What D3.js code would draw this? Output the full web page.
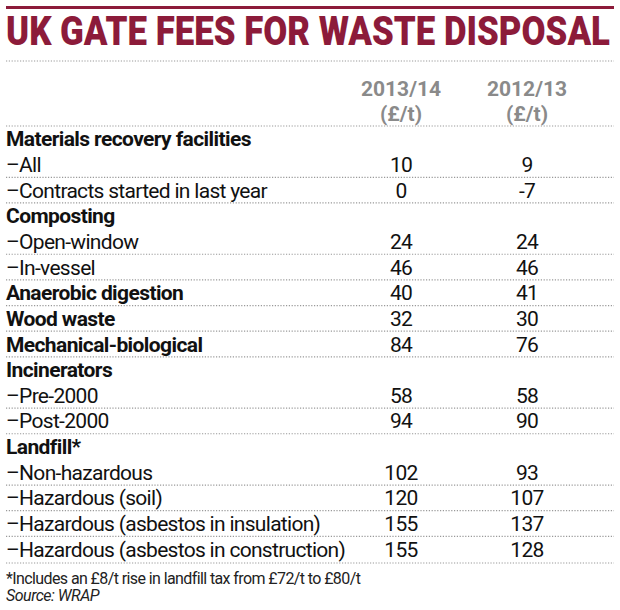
<!DOCTYPE html>
<html><head><meta charset="utf-8">
<script src="https://cdn.jsdelivr.net/npm/d3@7"></script>
<style>body{margin:0;background:#fff}</style></head>
<body><svg id="c" width="620" height="610"></svg>
<script>
const labels = ["Materials recovery facilities","\u2013All","\u2013Contracts started in last year","Composting","\u2013Open-window","\u2013In-vessel","Anaerobic digestion","Wood waste","Mechanical-biological","Incinerators","\u2013Pre-2000","\u2013Post-2000","Landfill*","\u2013Non-hazardous","\u2013Hazardous (soil)","\u2013Hazardous (asbestos in insulation)","\u2013Hazardous (asbestos in construction)"];
const bold = [1,0,0,1,0,0,1,1,1,1,0,0,1,0,0,0,0];
const v2013 = [null,10,0,null,24,46,40,32,84,null,58,94,null,102,120,155,155];
const v2012 = [null,9,-7,null,24,46,41,30,76,null,58,90,null,93,107,137,128];
const columns = ["2013/14","2012/13"];
const units = ["(\u00a3/t)","(\u00a3/t)"];

const svg = d3.select("#c");
const font = "Roboto, 'Liberation Sans', sans-serif";
const red = "#8c1b3a";
const y = d3.scaleBand().domain(d3.range(labels.length)).range([126, 562]);
const x = d3.scalePoint().domain(columns).range([401, 527]);

svg.append("rect").attr("x",6).attr("y",6).attr("width",608).attr("height",3).attr("fill",red);
svg.append("text").attr("x",6).attr("y",45).attr("font-family",font).attr("font-weight",900)
  .attr("font-size",40).attr("fill",red).attr("textLength",604).attr("lengthAdjust","spacingAndGlyphs")
  .text("UK GATE FEES FOR WASTE DISPOSAL");
function dotted(yy){svg.append("line").attr("x1",6).attr("x2",614).attr("y1",yy).attr("y2",yy)
  .attr("stroke","#999").attr("stroke-width",1.2).attr("stroke-dasharray","1.2,1.6");}
dotted(61); dotted(126);
columns.forEach((c,i)=>{
  svg.append("text").attr("x",x(c)).attr("y",96).attr("text-anchor","middle").attr("font-family",font)
    .attr("font-weight",700).attr("font-size",21).attr("fill","#8a8a8a").text(c);
  svg.append("text").attr("x",x(c)).attr("y",121).attr("text-anchor","middle").attr("font-family",font)
    .attr("font-weight",700).attr("font-size",21).attr("fill","#8a8a8a").text(units[i]);
});
labels.forEach((l,i)=>{
  const cy = y(i)+y.bandwidth()/2;
  if(i>0 && !(bold[i-1] && v2013[i-1]===null)) dotted(y(i));
  svg.append("text").attr("x",6).attr("y",cy+7.5).attr("font-family",font)
    .attr("font-weight",bold[i]?700:400).attr("font-size",21).attr("fill","#111")
    .attr("letter-spacing",bold[i]?-0.6:-0.7).text(l);
  [[v2013,columns[0]],[v2012,columns[1]]].forEach(([arr,c])=>{
    if(arr[i]!==null) svg.append("text").attr("x",x(c)).attr("y",cy+7.5).attr("text-anchor","middle")
      .attr("font-family",font).attr("font-size",21).attr("fill","#111").attr("letter-spacing",-0.7).text(arr[i]);
  });
});
dotted(563);
svg.append("text").attr("x",6).attr("y",584).attr("font-family",font).attr("font-size",16).attr("fill","#222")
  .attr("letter-spacing",-0.6).text("*Includes an \u00a38/t rise in landfill tax from \u00a372/t to \u00a380/t");
svg.append("text").attr("x",6).attr("y",601).attr("font-family",font).attr("font-size",16).attr("font-style","italic")
  .attr("fill","#222").attr("letter-spacing",-0.5).text("Source: WRAP");
</script></body></html>
